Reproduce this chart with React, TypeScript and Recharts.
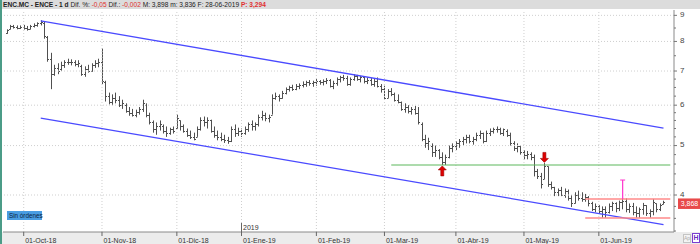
import React from 'react';
import { Bar, ComposedChart, ReferenceDot, ReferenceLine, XAxis, YAxis } from 'recharts';

// Bolsa de Madrid: días sin sesión en el periodo
const HOLIDAYS = ['2018-12-25', '2018-12-26', '2019-01-01', '2019-04-19', '2019-04-22', '2019-05-01'];
const MESES = ['Ene', 'Feb', 'Mar', 'Abr', 'May', 'Jun', 'Jul', 'Ago', 'Sep', 'Oct', 'Nov', 'Dic'];

const HIGHS = [
  8.45, 8.62, 8.62, 8.6, 8.6, 8.62, 8.58, 8.62, 8.68, 8.72,
  8.8, 8.75, 8.2, 7.6, 7.2, 7.25, 7.3, 7.35, 7.4, 7.38,
  7.35, 7.35, 7.2, 7.15, 7.2, 7.25, 7.35, 7.4, 7.75, 6.7,
  6.35, 6.3, 6.35, 6.25, 6.15, 6.05, 5.95, 5.9, 5.88, 5.95,
  6.15, 6.05, 5.8, 5.6, 5.55, 5.6, 5.5, 5.45, 5.42, 5.45,
  5.75, 5.6, 5.5, 5.4, 5.35, 5.3, 5.45, 5.68, 5.7, 5.68,
  5.62, 5.45, 5.35, 5.3, 5.25, 5.2, 5.45, 5.5, 5.42, 5.4,
  5.45, 5.55, 5.6, 5.55, 5.75, 5.85, 5.8, 5.75, 6.3, 6.35,
  6.3, 6.4, 6.5, 6.55, 6.58, 6.6, 6.62, 6.68, 6.7, 6.72,
  6.7, 6.75, 6.72, 6.74, 6.78, 6.75, 6.7, 6.8, 6.85, 6.88,
  6.85, 6.8, 6.9, 6.88, 6.85, 6.82, 6.8, 6.78, 6.75, 6.8,
  6.6, 6.55, 6.45, 6.48, 6.35, 6.3, 6.1, 6.05, 6.0, 5.95,
  5.98, 5.95, 5.55, 5.25, 5.18, 5.05, 5.0, 4.92, 4.85, 4.8,
  5.0, 5.05, 5.1, 5.15, 5.2, 5.25, 5.25, 5.2, 5.3, 5.35,
  5.3, 5.35, 5.4, 5.42, 5.45, 5.42, 5.4, 5.38, 5.3, 5.1,
  5.05, 5.0, 4.9, 4.88, 4.85, 4.8, 4.5, 4.42, 4.62, 4.55,
  4.25, 4.15, 4.12, 4.15, 4.12, 4.1, 4.0, 4.05, 4.08, 4.05,
  4.02, 3.98, 3.88, 3.85, 3.82, 3.8, 3.8, 3.85, 3.88, 3.87,
  3.9, 3.93, 3.94, 3.85, 3.86, 3.8, 3.78, 3.86, 3.82, 3.75,
  3.93, 3.85, 3.85, 3.898,
];
const LOWS = [
  8.28, 8.45, 8.48, 8.45, 8.46, 8.44, 8.4, 8.45, 8.52, 8.55,
  8.6, 8.1, 7.3, 6.45, 6.85, 6.9, 7.0, 7.1, 7.2, 7.18,
  7.15, 7.12, 6.85, 6.82, 6.95, 6.98, 7.1, 7.12, 6.6, 6.1,
  6.02, 6.0, 6.05, 5.95, 5.9, 5.8, 5.72, 5.7, 5.68, 5.75,
  5.82, 5.68, 5.5, 5.3, 5.25, 5.35, 5.28, 5.2, 5.25, 5.28,
  5.4, 5.35, 5.3, 5.2, 5.15, 5.12, 5.2, 5.35, 5.45, 5.4,
  5.3, 5.18, 5.12, 5.1, 5.06, 5.04, 5.08, 5.2, 5.22, 5.2,
  5.25, 5.32, 5.35, 5.35, 5.45, 5.6, 5.58, 5.55, 5.75, 6.15,
  6.1, 6.18, 6.3, 6.38, 6.4, 6.42, 6.45, 6.5, 6.52, 6.55,
  6.52, 6.55, 6.58, 6.56, 6.6, 6.5, 6.45, 6.55, 6.65, 6.7,
  6.55, 6.55, 6.7, 6.7, 6.65, 6.62, 6.6, 6.55, 6.52, 6.5,
  6.35, 6.15, 6.2, 6.25, 6.1, 6.05, 5.85, 5.8, 5.78, 5.75,
  5.75, 5.5, 5.1, 4.95, 4.9, 4.75, 4.75, 4.7, 4.58, 4.58,
  4.72, 4.85, 4.9, 4.95, 5.0, 5.05, 5.05, 5.02, 5.1, 5.15,
  5.05, 5.08, 5.22, 5.28, 5.3, 5.25, 5.22, 5.2, 5.0, 4.88,
  4.85, 4.8, 4.7, 4.7, 4.68, 4.35, 4.3, 4.12, 4.3, 4.15,
  4.1, 3.98, 3.98, 3.98, 3.95, 3.9, 3.79, 3.85, 3.9, 3.88,
  3.88, 3.8, 3.72, 3.7, 3.68, 3.61, 3.61, 3.68, 3.72, 3.7,
  3.72, 3.75, 3.7, 3.69, 3.65, 3.61, 3.61, 3.66, 3.64, 3.61,
  3.65, 3.7, 3.72, 3.836,
];
const OPENS = [
  8.3, 8.48, 8.58, 8.55, 8.5, 8.55, 8.5, 8.45, 8.58, 8.62,
  8.68, 8.7, 8.15, 7.4, 6.9, 7.1, 7.05, 7.2, 7.3, 7.28,
  7.3, 7.22, 7.15, 6.9, 7.05, 7.0, 7.2, 7.25, 7.3, 6.65,
  6.25, 6.1, 6.2, 6.15, 6.0, 6.0, 5.85, 5.8, 5.75, 5.82,
  5.9, 6.0, 5.75, 5.55, 5.4, 5.45, 5.45, 5.35, 5.3, 5.38,
  5.42, 5.6, 5.45, 5.35, 5.25, 5.2, 5.2, 5.4, 5.6, 5.55,
  5.6, 5.35, 5.25, 5.2, 5.15, 5.12, 5.1, 5.4, 5.3, 5.35,
  5.3, 5.4, 5.5, 5.45, 5.5, 5.7, 5.75, 5.65, 5.75, 6.2,
  6.25, 6.2, 6.35, 6.45, 6.5, 6.45, 6.55, 6.58, 6.6, 6.65,
  6.62, 6.66, 6.7, 6.65, 6.7, 6.72, 6.55, 6.62, 6.75, 6.8,
  6.78, 6.6, 6.75, 6.85, 6.75, 6.8, 6.7, 6.72, 6.6, 6.7,
  6.55, 6.45, 6.2, 6.4, 6.3, 6.15, 6.1, 5.9, 5.95, 5.85,
  5.9, 5.8, 5.5, 5.15, 5.05, 5.0, 4.85, 4.9, 4.75, 4.65,
  4.75, 4.95, 5.0, 5.05, 5.1, 5.15, 5.2, 5.1, 5.15, 5.25,
  5.3, 5.1, 5.3, 5.35, 5.4, 5.4, 5.3, 5.35, 5.25, 5.05,
  4.95, 5.0, 4.85, 4.8, 4.82, 4.75, 4.45, 4.35, 4.3, 4.55,
  4.2, 4.15, 4.05, 4.1, 4.0, 4.08, 3.95, 3.85, 4.0, 3.95,
  3.92, 3.97, 3.85, 3.75, 3.8, 3.72, 3.75, 3.7, 3.8, 3.85,
  3.78, 3.88, 3.9, 3.75, 3.8, 3.7, 3.68, 3.75, 3.82, 3.68,
  3.72, 3.85, 3.75, 3.84,
];
const CLOSES = [
  8.42, 8.58, 8.55, 8.5, 8.55, 8.5, 8.45, 8.58, 8.62, 8.68,
  8.75, 8.2, 7.4, 6.9, 7.1, 7.0, 7.2, 7.3, 7.28, 7.3,
  7.22, 7.25, 6.9, 7.05, 7.0, 7.2, 7.25, 7.3, 6.7, 6.25,
  6.1, 6.2, 6.15, 6.0, 6.05, 5.85, 5.8, 5.75, 5.82, 5.9,
  6.05, 5.75, 5.55, 5.4, 5.45, 5.5, 5.35, 5.3, 5.38, 5.35,
  5.65, 5.45, 5.35, 5.25, 5.2, 5.15, 5.4, 5.6, 5.55, 5.6,
  5.35, 5.25, 5.2, 5.15, 5.12, 5.1, 5.4, 5.3, 5.35, 5.3,
  5.4, 5.5, 5.45, 5.5, 5.7, 5.75, 5.65, 5.7, 6.2, 6.25,
  6.2, 6.35, 6.45, 6.5, 6.45, 6.55, 6.58, 6.6, 6.65, 6.62,
  6.66, 6.7, 6.65, 6.7, 6.72, 6.55, 6.62, 6.75, 6.8, 6.78,
  6.6, 6.75, 6.85, 6.75, 6.8, 6.7, 6.72, 6.6, 6.7, 6.55,
  6.45, 6.2, 6.4, 6.3, 6.15, 6.1, 5.9, 5.95, 5.85, 5.9,
  5.8, 5.55, 5.15, 5.05, 5.1, 4.85, 4.9, 4.75, 4.65, 4.75,
  4.95, 5.0, 5.05, 5.1, 5.15, 5.2, 5.1, 5.15, 5.25, 5.3,
  5.1, 5.3, 5.35, 5.4, 5.4, 5.3, 5.38, 5.25, 5.05, 4.95,
  5.0, 4.85, 4.8, 4.82, 4.75, 4.45, 4.35, 4.2, 4.55, 4.2,
  4.15, 4.05, 4.1, 4.0, 4.08, 3.95, 3.85, 4.0, 3.95, 3.92,
  3.97, 3.85, 3.75, 3.8, 3.72, 3.75, 3.7, 3.8, 3.85, 3.78,
  3.88, 3.9, 3.75, 3.8, 3.7, 3.68, 3.75, 3.82, 3.68, 3.72,
  3.88, 3.75, 3.82, 3.868,
];

// líneas dibujadas sobre el gráfico (índice de sesión, precio)
const UPPER_CHANNEL = [{ i: 10, v: 8.78 }, { i: 193, v: 5.41 }];
const LOWER_CHANNEL = [{ i: 10, v: 5.66 }, { i: 193, v: 3.5 }];
const SUPPORT = { from: 113, v: 4.58 };
const RANGE_TOP = { from: 170, v: 3.93 };
const RANGE_BOTTOM = { from: 170, v: 3.605 };
const TARGET = { i: 181, from: 3.93, to: 4.28 };
const ARROW_UP = { i: 128, v: 4.46 };
const ARROW_DOWN = { i: 158, v: 4.74 };
const LAST_PRICE = 3.868;

const GRID_Y = [4, 5, 6, 7, 8, 9];
const Y_TICKS = [
  3.4, 3.6, 3.8, 4, 4.2, 4.4, 4.6, 4.8, 5, 5.2, 5.4, 5.6, 5.8, 6,
  6.25, 6.5, 6.75, 7, 7.5, 8, 8.5, 9,
];

function tradingDays(from: string, to: string) {
  const out: string[] = [];
  const d = new Date(from + 'T00:00:00Z');
  const end = new Date(to + 'T00:00:00Z');
  while (d <= end) {
    const wd = d.getUTCDay();
    const s = d.toISOString().slice(0, 10);
    if (wd !== 0 && wd !== 6 && !HOLIDAYS.includes(s)) out.push(s);
    d.setUTCDate(d.getUTCDate() + 1);
  }
  return out;
}

const DATES = tradingDays('2018-09-24', '2019-06-28');
const PAD = ['pad1', 'pad2'];
const data: any[] = [
  ...DATES.map((d, i) => ({ d, h: HIGHS[i], l: LOWS[i], o: OPENS[i], c: CLOSES[i] })),
  ...PAD.map((d) => ({ d })),
];
const LAST_KEY = PAD[PAD.length - 1];

const MONTH_TICKS = DATES.filter((d, i) => i > 0 && d.slice(5, 7) !== DATES[i - 1].slice(5, 7));
const monthLabel = (d: string) => `01-${MESES[Number(d.slice(5, 7)) - 1]}-${d.slice(2, 4)}`;

const FONT = '"Liberation Sans", Arial, sans-serif';

const OhlcBar = (props: any) => {
  const { x, y, width, height, payload } = props;
  if (!payload || payload.h == null || !isFinite(y) || !isFinite(height)) return null;
  const top = Math.min(y, y + height);
  const h = Math.abs(height);
  const cx = Math.round(x + width / 2) + 0.5;
  const span = Math.log(payload.h) - Math.log(payload.l);
  const py = (v: number) => top + (span > 0 ? (h * (Math.log(payload.h) - Math.log(v))) / span : 0);
  const yo = Math.round(py(payload.o)) + 0.5;
  const yc = Math.round(py(payload.c)) + 0.5;
  return (
    <g stroke="#505050" strokeWidth={1}>
      <line x1={cx} x2={cx} y1={top} y2={top + Math.max(h, 1)} />
      <line x1={cx - 1.5} x2={cx} y1={yo} y2={yo} />
      <line x1={cx} x2={cx + 1.5} y1={yc} y2={yc} />
    </g>
  );
};

const XTick = ({ x, y, payload }: any) => {
  const d: string = payload.value;
  return (
    <g>
      <line x1={x} x2={x} y1={y} y2={y + 4} stroke="#666" />
      <text x={x + 1.5} y={y + 10.5} fontSize={7} fill="#333" fontFamily={FONT}>
        {monthLabel(d)}
      </text>
      {d.startsWith('2019-01') && (
        <g>
          <line x1={x} x2={x} y1={y - 9} y2={y} stroke="#666" />
          <text x={x + 1.5} y={y - 2} fontSize={7} fill="#333" fontFamily={FONT}>
            2019
          </text>
        </g>
      )}
    </g>
  );
};

const YTick = ({ x, y, payload }: any) => {
  const v: number = payload.value;
  const major = Number.isInteger(v);
  return (
    <g>
      <line x1={x} x2={x + (major ? 3 : 2)} y1={y} y2={y} stroke="#777" />
      {major && (
        <text x={x + 6} y={y - 1} dy="0.35em" fontSize={8} fill="#444" fontFamily={FONT}>
          {v}
        </text>
      )}
    </g>
  );
};

const Arrow = ({ cx, cy, up }: any) => {
  if (!isFinite(cx) || !isFinite(cy)) return null;
  const s = up ? 1 : -1;
  const pts = [
    [0, -5], [-4, -1], [-1.5, -1], [-1.5, 5], [1.5, 5], [1.5, -1], [4, -1],
  ].map(([px, py]) => `${cx + px},${cy + s * py}`).join(' ');
  return <polygon points={pts} fill="#e00000" stroke="#900" strokeWidth={0.6} />;
};

const Cap = ({ cx, cy }: any) => {
  if (!isFinite(cx) || !isFinite(cy)) return null;
  return <line x1={cx - 2.5} x2={cx + 2.5} y1={cy} y2={cy} stroke="#ff33cc" strokeWidth={1} />;
};

const PriceTag = (props: any) => {
  const vb = props.viewBox;
  if (!vb) return null;
  const x = vb.x + vb.width + 4;
  const y = vb.y;
  return (
    <g>
      <rect x={x} y={y - 4} width={23} height={10.5} fill="#e84a4a" />
      <text x={x + 11.5} y={y + 1.3} dy="0.35em" textAnchor="middle" fontSize={7} fill="#fff" fontFamily={FONT}>
        {LAST_PRICE.toFixed(3).replace('.', ',')}
      </text>
    </g>
  );
};

export default function App() {
  return (
    <div style={{ position: 'absolute', left: 0, top: 0, width: 700, height: 244, background: '#fff', overflow: 'hidden', fontFamily: FONT }}>
      <div style={{ position: 'absolute', left: 0, top: 232, width: 700, height: 12, background: '#ececec' }} />
      <div style={{ position: 'absolute', left: 0, top: 0 }}>
        <ComposedChart width={700} height={244} data={data} margin={{ top: 10, right: 0, bottom: 0, left: 3 }}>
          <XAxis
            dataKey="d"
            ticks={MONTH_TICKS}
            interval={0}
            tick={<XTick />}
            tickLine={false}
            tickSize={0}
            tickMargin={0}
            axisLine={{ stroke: '#8a8a8a' }}
            height={12}
            padding={{ left: 2, right: 2 }}
          />
          <YAxis
            orientation="right"
            scale="log"
            type="number"
            domain={[3.385, 9.22]}
            allowDataOverflow
            ticks={Y_TICKS}
            interval={0}
            tick={<YTick />}
            tickLine={false}
            tickSize={0}
            tickMargin={0}
            axisLine={{ stroke: '#8a8a8a' }}
            width={26}
          />
          {GRID_Y.map((v) => (
            <ReferenceLine key={`gy${v}`} y={v} stroke="#cfcfcf" strokeDasharray="1 2" />
          ))}
          {MONTH_TICKS.map((d) => (
            <ReferenceLine key={`gx${d}`} x={d} stroke="#cfcfcf" strokeDasharray="1 2" />
          ))}
          <Bar
            dataKey={(d: any) => (d.h == null ? null : [d.l, d.h])}
            shape={<OhlcBar />}
            barSize={3}
            isAnimationActive={false}
          />
          <ReferenceLine
            segment={UPPER_CHANNEL.map((p) => ({ x: DATES[p.i], y: p.v }))}
            stroke="#4a4aff"
            strokeWidth={1.3}
            ifOverflow="visible"
          />
          <ReferenceLine
            segment={LOWER_CHANNEL.map((p) => ({ x: DATES[p.i], y: p.v }))}
            stroke="#4a4aff"
            strokeWidth={1.3}
            ifOverflow="visible"
          />
          <ReferenceLine
            segment={[{ x: DATES[SUPPORT.from], y: SUPPORT.v }, { x: LAST_KEY, y: SUPPORT.v }]}
            stroke="#5cb85c"
            strokeWidth={1.2}
            ifOverflow="visible"
          />
          <ReferenceLine
            segment={[{ x: DATES[RANGE_TOP.from], y: RANGE_TOP.v }, { x: LAST_KEY, y: RANGE_TOP.v }]}
            stroke="#ff8a8a"
            strokeWidth={1.6}
            ifOverflow="visible"
          />
          <ReferenceLine
            segment={[{ x: DATES[RANGE_BOTTOM.from], y: RANGE_BOTTOM.v }, { x: LAST_KEY, y: RANGE_BOTTOM.v }]}
            stroke="#ff8a8a"
            strokeWidth={1.6}
            ifOverflow="visible"
          />
          <ReferenceLine
            segment={[{ x: DATES[TARGET.i], y: TARGET.from }, { x: DATES[TARGET.i], y: TARGET.to }]}
            stroke="#ff33cc"
            strokeWidth={1.2}
            ifOverflow="visible"
          />
          <ReferenceDot x={DATES[TARGET.i]} y={TARGET.to} r={2} ifOverflow="visible" shape={(p: any) => <Cap {...p} />} />
          <ReferenceDot x={DATES[ARROW_UP.i]} y={ARROW_UP.v} r={4} ifOverflow="visible" shape={(p: any) => <Arrow {...p} up />} />
          <ReferenceDot x={DATES[ARROW_DOWN.i]} y={ARROW_DOWN.v} r={4} ifOverflow="visible" shape={(p: any) => <Arrow {...p} up={false} />} />
          <ReferenceLine y={LAST_PRICE} stroke="none" ifOverflow="visible" label={<PriceTag />} />
        </ComposedChart>
      </div>
      <div
        style={{
          position: 'absolute', left: 0, top: 0, width: 700, height: 9, background: '#dcdcdc',
          fontSize: 6.6, lineHeight: '9px', color: '#222', whiteSpace: 'nowrap', paddingLeft: 3, boxSizing: 'border-box',
        }}
      >
        <b>ENC.MC - ENCE - 1 d</b> Dif. %: <span style={{ color: '#e03030' }}>-0,05</span> Dif.:{' '}
        <span style={{ color: '#e03030' }}>-0,002</span> M: 3,898 m: 3,836 F: 28-06-2019{' '}
        <b style={{ color: '#e03030' }}>P: 3,294</b>
      </div>
      <div style={{ position: 'absolute', left: 0, top: 0, width: 2, height: 244, background: '#4b9c87' }} />
      <div
        style={{
          position: 'absolute', left: 7, top: 211, width: 35, height: 9, background: '#4a9de2',
          fontSize: 6.3, lineHeight: '9px', color: '#0b2340', paddingLeft: 2, boxSizing: 'border-box', whiteSpace: 'nowrap',
        }}
      >
        Sin órdenes
      </div>
      <div
        style={{
          position: 'absolute', left: 683, top: 234, width: 8, height: 9, border: '1px solid #c4c4c4', boxSizing: 'border-box',
          fontSize: 5, lineHeight: '7px', color: '#aaa', textAlign: 'center', background: '#f4f4f4',
        }}
      >
        Ap
      </div>
      <div
        style={{
          position: 'absolute', left: 692, top: 233, width: 8, height: 10, border: '1px solid #7a3fd0', boxSizing: 'border-box',
          fontSize: 7, lineHeight: '8px', color: '#6a2fc0', textAlign: 'center', fontWeight: 'bold', background: '#fff',
        }}
      >
        H
      </div>
    </div>
  );
}
